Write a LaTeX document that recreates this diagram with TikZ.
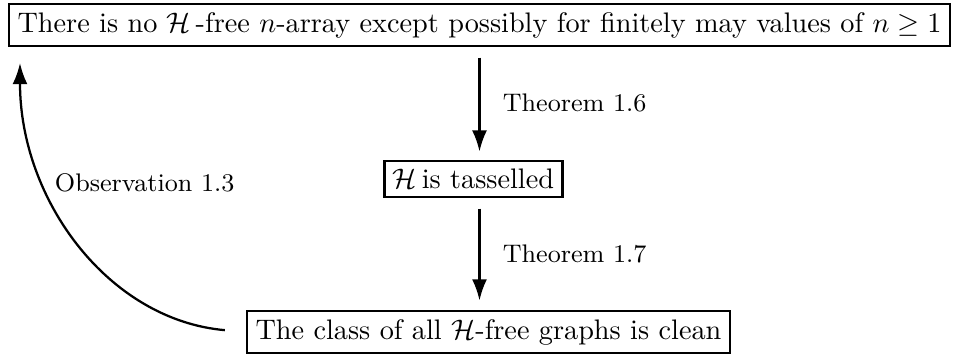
\documentclass[tikz,border=0pt]{standalone}
\usepackage{amsmath,amsfonts,amssymb}
\usetikzlibrary{positioning, calc}
\usetikzlibrary{arrows.meta}

\begin{document}
\begin{tikzpicture}[
  box/.style={draw, line width=0.8pt, inner xsep=3pt, inner ysep=2.8pt},
  lab/.style={font=\small},
  imp/.style={line width=0.8pt, -{Latex[length=7.5pt,width=5.3pt]}}
]
  % Enunciato in alto
  \node[box] (top) {There is no $\mathcal{H}$\,-free $n$-array except possibly for finitely may values of $n \geq 1$};
  % unita' = un pixel del disegno (il riquadro in alto e' largo 943)
  \path let \p1 = ($(top.east)-(top.west)$) in
    \pgfextra{\pgfmathsetmacro{\pxtmp}{\x1/943}\global\let\pxu\pxtmp};
  \begin{scope}[shift={(top.center)}, x=\pxu pt, y=-\pxu pt]
    \useasboundingbox (-479.5,-25) rectangle (477.5,328);
    % --- tassellato ---
    \node[box] (tass) at (-6,154) {$\mathcal{H}$\,is tasselled};
    % --- classe pulita ---
    \node[box] (clean) at (9,307) {The class of all $\mathcal{H}$-free graphs is clean};
    \coordinate (obs) at (-459.5,38);
  \end{scope}

  % frecce
  \draw[imp, shorten <=3.8pt, shorten >=3pt] (top.south) -- (top.south |- tass.north)
    node[lab, midway, right=4.5pt] {Theorem 1.6};
  \draw[imp, shorten <=3.8pt, shorten >=3.4pt] (top.south |- tass.south) -- (top.south |- clean.north)
    node[lab, midway, right=4.5pt] {Theorem 1.7};
  \draw[imp, shorten <=7.5pt] (clean.west) to[out=175, in=-90]
    node[lab, pos=.69, right=0pt] {Observation 1.3} (obs);
\end{tikzpicture}
\end{document}
